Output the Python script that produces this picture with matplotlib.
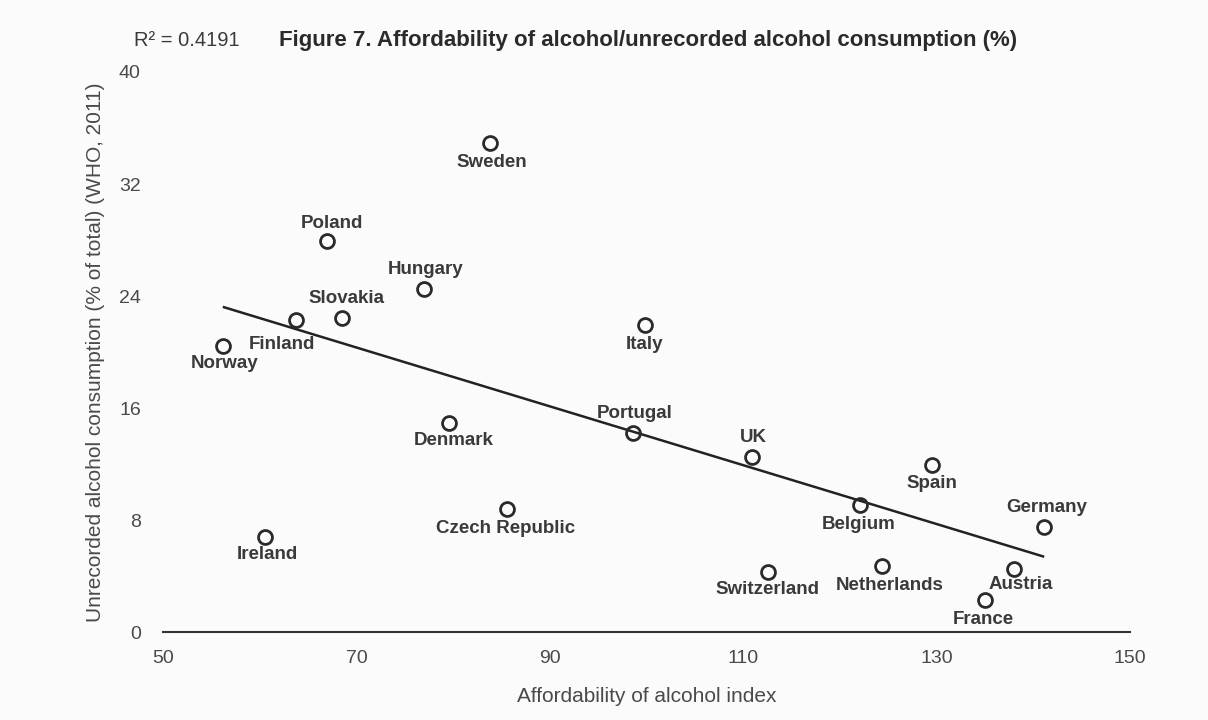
import matplotlib.pyplot as plt

plt.rcParams['font.family'] = ['Liberation Sans', 'DejaVu Sans']

# data
countries = ['Sweden', 'Poland', 'Hungary', 'Slovakia', 'Finland', 'Norway', 'Italy',
             'Denmark', 'Portugal', 'UK', 'Spain', 'Czech Republic', 'Belgium', 'Germany',
             'Ireland', 'Switzerland', 'Netherlands', 'Austria', 'France']
afford = [83.8, 67.0, 77.0, 68.5, 63.7, 56.2, 99.8,
          79.6, 98.6, 110.9, 129.5, 85.6, 122.1, 141.1,
          60.5, 112.6, 124.3, 138.0, 135.0]
unrecorded = [34.9, 27.9, 24.5, 22.4, 22.3, 20.4, 21.9,
              14.9, 14.2, 12.5, 11.9, 8.8, 9.1, 7.5,
              6.8, 4.3, 4.7, 4.5, 2.3]
trend_x = [56.3, 141.0]
trend_y = [23.2, 5.4]
r_squared = 0.4191
x_ticks = [50, 70, 90, 110, 130, 150]
y_ticks = [0, 8, 16, 24, 32, 40]

# label offsets in points (dx, dy) relative to each marker
label_offsets = {
    'Sweden': (1, -14), 'Poland': (3, 13), 'Hungary': (1, 14), 'Slovakia': (3, 14),
    'Finland': (-10, -18), 'Norway': (1, -12), 'Italy': (0, -14), 'Denmark': (3, -12),
    'Portugal': (1, 14), 'UK': (1, 14), 'Spain': (0, -13), 'Czech Republic': (-1, -14),
    'Belgium': (-1, -14), 'Germany': (2, 14), 'Ireland': (2, -13), 'Switzerland': (-1, -13),
    'Netherlands': (6, -14), 'Austria': (5, -11), 'France': (-1, -14),
}

fig = plt.figure(figsize=(12.08, 7.2), dpi=100)
fig.patch.set_facecolor('#fbfbfb')
ax = fig.add_axes([0.135, 0.1222, 0.8005, 0.7778])
ax.set_facecolor('#fbfbfb')

ax.plot(trend_x, trend_y, color='#222222', lw=1.8, zorder=2)
ax.plot(afford, unrecorded, 'o', ms=10, mfc='none', mec='#2a2a2a', mew=2, zorder=3)

for name, xv, yv in zip(countries, afford, unrecorded):
    dx, dy = label_offsets[name]
    ax.annotate(name, (xv, yv), xytext=(dx, dy), textcoords='offset points',
                ha='center', va='center', fontsize=13.5, fontweight='bold', color='#3a3a3a')

ax.set_xlim(50, 150)
ax.set_ylim(0, 40)
ax.set_xticks(x_ticks)
ax.set_yticks(y_ticks)
ax.tick_params(length=0, labelsize=14, colors='#4a4a4a')
ax.tick_params(axis='x', pad=13)
ax.tick_params(axis='y', pad=16)
for s in ['top', 'right', 'left']:
    ax.spines[s].set_visible(False)
ax.spines['bottom'].set_color('#333333')
ax.spines['bottom'].set_linewidth(1.5)

ax.set_xlabel('Affordability of alcohol index', fontsize=15, color='#4a4a4a', labelpad=14)
ax.set_ylabel('Unrecorded alcohol consumption (% of total) (WHO, 2011)',
              fontsize=15, color='#4a4a4a', labelpad=10)

fig.text(0.111, 0.944, f'R\u00b2 = {r_squared}', fontsize=14.5, color='#3a3a3a', va='center')
fig.text(0.231, 0.944, 'Figure 7. Affordability of alcohol/unrecorded alcohol consumption (%)',
         fontsize=16, fontweight='bold', color='#2a2a2a', va='center')

fig.savefig('out.png', dpi=100, facecolor=fig.get_facecolor())
